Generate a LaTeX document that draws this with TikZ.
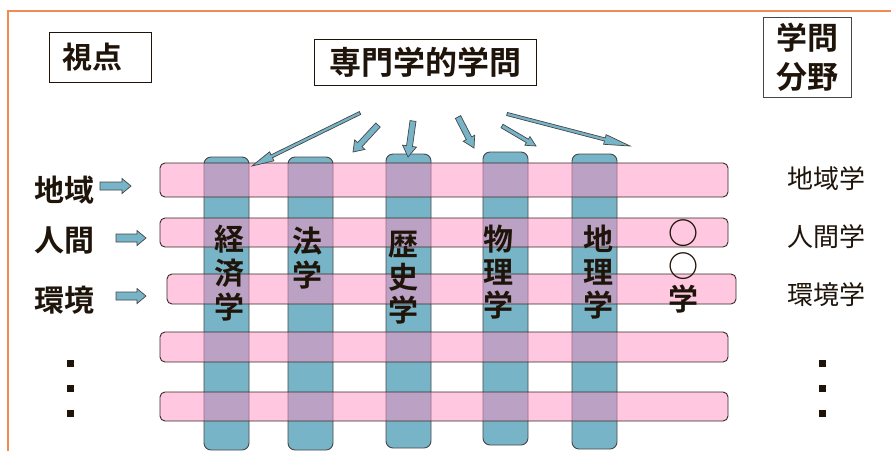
\documentclass[tikz,border=0pt]{standalone}
\usepackage{fontspec}
\usetikzlibrary{calc}
\newfontfamily\jp{Noto Sans CJK JP}[BoldFont={* Bold}]
\newcommand\jpb{\jp\bfseries}
\definecolor{frameor}{RGB}{240,140,80}
\definecolor{barblue}{RGB}{120,180,200}
\definecolor{barpink}{RGB}{255,145,195}
\definecolor{ink}{RGB}{30,20,10}
\definecolor{edge}{RGB}{70,70,70}
\tikzset{
  hbar/.style={draw=ink!90, line width=0.9pt, fill=barpink, fill opacity=0.5, draw opacity=1, rounded corners=5pt, inner sep=0pt, minimum width=568pt},
  vbar/.style={draw=edge, line width=0.9pt, fill=barblue, rounded corners=7pt, inner sep=0pt, minimum width=45pt},
  titlebox/.style={draw=ink, line width=1pt, inner sep=0pt},
  biglbl/.style={font=\jpb\fontsize{30}{33}\selectfont, text=ink, inner sep=0pt, align=center},
  sidelbl/.style={font=\jp\fontsize{26}{30}\selectfont, text=ink, inner sep=0pt},
  sqdot/.style={fill=ink, minimum size=7pt, inner sep=0pt},
  arrsty/.style={draw=edge, line width=0.7pt, fill=barblue, line join=miter}
}
% #1 start, #2 end, #3 shaft half width, #4 head half width, #5 head length, #6 name
\newcommand\blkarr[6]{%
  \coordinate (#6-b) at ($(#2)!#5!(#1)$);
  \draw[arrsty] ($(#1)!#3!90:(#2)$) -- ($(#6-b)!#3!-90:(#1)$) -- ($(#6-b)!#4!-90:(#1)$) -- (#2)
    -- ($(#6-b)!#4!90:(#1)$) -- ($(#6-b)!#3!90:(#1)$) -- ($(#1)!#3!-90:(#2)$) -- cycle;
}
\begin{document}
\begin{tikzpicture}[x=1pt,y=-1pt]
\useasboundingbox (0,0) rectangle (891,451);
\fill[white] (0,0) rectangle (891,451);
% frame
\coordinate (fa) at (8,451);
\coordinate (fb) at (8,11);
\coordinate (fc) at (891,11);
\draw[frameor, line width=2pt] (fa) -- (fb) -- (fc);

% title boxes
\node[titlebox, minimum width=102pt, minimum height=50pt] (shitenbox) at (100,57) {};
\node[biglbl] (shiten) at (92,57) {視点};
\node[titlebox, minimum width=222pt, minimum height=46pt, font=\jpb\fontsize{32}{36}\selectfont, text=ink] (senmon) at (425,62) {専門学的学問};
\node[titlebox, draw=edge, minimum width=88pt, minimum height=80pt, font=\jpb\fontsize{31}{39}\selectfont, text=ink, align=center] (bunya) at (807,57) {学問\\分野};

% vertical bars
\node[vbar, minimum height=293pt] (v1) at (226.5,303.5) {};
\node[vbar, minimum height=293pt] (v2) at (310.5,303.5) {};
\node[vbar, minimum height=294pt] (v3) at (408.5,301) {};
\node[vbar, minimum height=293pt] (v4) at (505.5,298.5) {};
\node[vbar, minimum height=295pt] (v5) at (594.5,301.5) {};

% horizontal bars
\node[hbar, minimum height=34pt] (h1) at (444,180) {};
\node[hbar, minimum height=29pt] (h2) at (444,232.5) {};
\node[hbar, minimum height=30pt, minimum width=569pt] (h3) at (451.5,289) {};
\node[hbar, minimum height=30pt] (h4) at (444,347) {};
\node[hbar, minimum height=29pt] (h5) at (444,406.5) {};

% vertical labels
\node[biglbl, font=\jpb\fontsize{30}{34}\selectfont] (keizai) at (229,273) {経\\済\\学};
\node[biglbl, font=\jpb\fontsize{30}{34}\selectfont] (hogaku) at (307,258) {法\\学};
\node[biglbl] (rekishi) at (403,278) {歴\\史\\学};
\node[biglbl] (butsuri) at (498,272) {物\\理\\学};
\node[biglbl] (chiri) at (598,272) {地\\理\\学};
\node[biglbl] (maru) at (683,266) {○\\○\\学};

% left labels
\node[biglbl] (chiiki) at (64,190) {地域};
\node[biglbl] (ningen) at (64,240) {人間};
\node[biglbl] (kankyo) at (64,300) {環境};
\node[sqdot] (ld1) at (70,363) {};
\node[sqdot] (ld2) at (70,388) {};
\node[sqdot] (ld3) at (70,413) {};

% right labels
\node[sidelbl] (chiikigaku) at (826,179) {地域学};
\node[sidelbl] (ningengaku) at (826,237) {人間学};
\node[sidelbl] (kankyogaku) at (826,295) {環境学};
\node[sqdot] (rd1) at (822,363) {};
\node[sqdot] (rd2) at (822,388) {};
\node[sqdot] (rd3) at (822,413) {};

% left block arrows
\coordinate (l1s) at (100,186); \coordinate (l1e) at (131,186);
\coordinate (l2s) at (116,238); \coordinate (l2e) at (146,238);
\coordinate (l3s) at (116,296); \coordinate (l3e) at (146,296);
\blkarr{l1s}{l1e}{4pt}{7.5pt}{9pt}{l1}
\blkarr{l2s}{l2e}{4pt}{7.5pt}{9pt}{l2}
\blkarr{l3s}{l3e}{4pt}{7.5pt}{9pt}{l3}

% top arrows
\coordinate (a1s) at (360,113); \coordinate (a1e) at (252,166);
\coordinate (a2s) at (378,125); \coordinate (a2e) at (353,152);
\coordinate (a3s) at (413,121); \coordinate (a3e) at (408,157);
\coordinate (a4s) at (458,117); \coordinate (a4e) at (474,148);
\coordinate (a5s) at (502,126); \coordinate (a5e) at (536,146);
\coordinate (a6s) at (507,114); \coordinate (a6e) at (630,146);
\blkarr{a1s}{a1e}{1.6pt}{5pt}{22pt}{a1}
\blkarr{a2s}{a2e}{3pt}{7pt}{10pt}{a2}
\blkarr{a3s}{a3e}{3pt}{7pt}{11pt}{a3}
\blkarr{a4s}{a4e}{3pt}{6.5pt}{11pt}{a4}
\blkarr{a5s}{a5e}{2pt}{5pt}{10pt}{a5}
\blkarr{a6s}{a6e}{1.6pt}{5pt}{26pt}{a6}
\end{tikzpicture}
\end{document}
